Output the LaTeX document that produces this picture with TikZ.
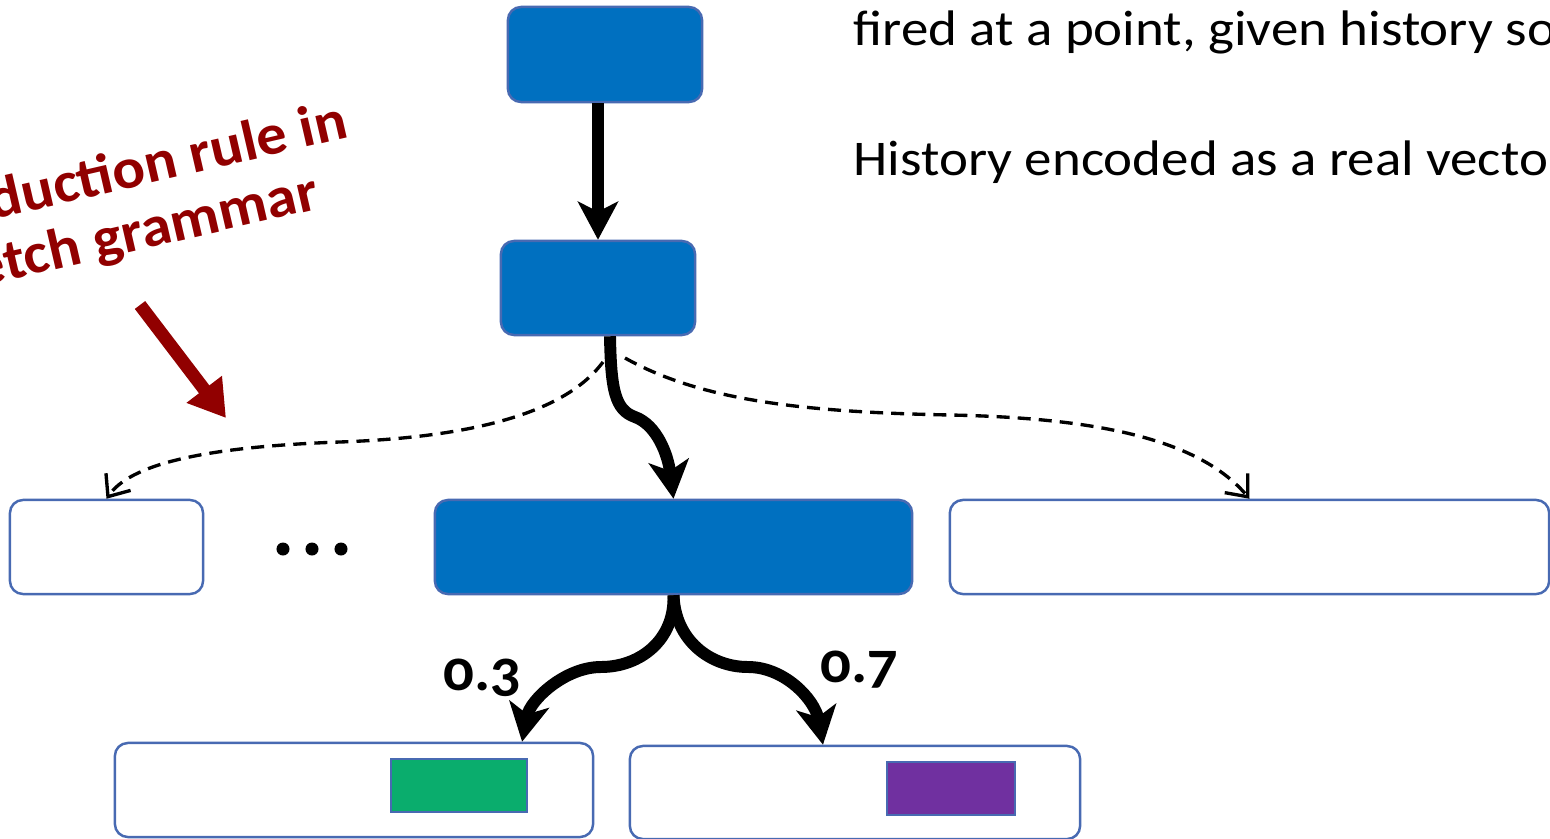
\documentclass[tikz,border=0pt]{standalone}
\usepackage{fontspec}
\setmainfont{Carlito}
\newfontfamily\probfont[Numbers=OldStyle,FakeStretch=1.05]{Carlito}
\newfontfamily\bodyfont[FakeStretch=1.1]{Carlito}
\newfontfamily\notefont[FakeStretch=1.06]{Carlito}
\usetikzlibrary{arrows.meta}
\definecolor{boxblue}{RGB}{0,112,192}
\definecolor{edgeblue}{RGB}{72,106,178}
\definecolor{okgreen}{RGB}{10,173,109}
\definecolor{okpurple}{RGB}{112,48,160}
\definecolor{darkred}{RGB}{145,0,0}
\begin{document}
\begin{tikzpicture}[x=0.01cm,y=-0.01cm,
 box/.style={draw=edgeblue,line width=0.7pt,rounded corners=0.13cm,inner sep=0,minimum height=0.94cm},
 filled/.style={box,fill=boxblue},
 empty/.style={box,fill=white},
 swatch/.style={draw=edgeblue,line width=0.5pt,inner sep=0,minimum height=0.53cm},
 bigarrow/.style={line width=3.4pt,-{Stealth[length=0.38cm,width=0.4cm,inset=0.1cm]}},
 choice/.style={dash pattern=on 3.7pt off 2.3pt,line width=0.95pt,-{Straight Barb[length=0.18cm,width=0.3cm]}},
 prob/.style={font=\fontsize{16.5pt}{19pt}\probfont\bfseries,inner sep=0,anchor=base west},
 body/.style={font=\fontsize{14.2pt}{17pt}\bodyfont,inner sep=0,anchor=base west},
 note/.style={font=\fontsize{16.3pt}{19pt}\notefont\bfseries,text=darkred,inner sep=0,rotate=13,anchor=base east}]
\useasboundingbox (0,0) rectangle (1550,839);
\clip (0,0) rectangle (1550,839);
% boxes
\node[filled,minimum width=1.94cm,minimum height=0.95cm] (A) at (605,54.5) {};
\node[filled,minimum width=1.94cm] (B) at (598,288) {};
\node[empty,minimum width=1.93cm] (C) at (106.5,547) {};
\node[filled,minimum width=4.77cm] (D) at (673.5,547) {};
\node[empty,minimum width=5.99cm] (E) at (1249.5,547) {};
\node[empty,minimum width=4.78cm] (F) at (354,790) {};
\node[empty,minimum width=4.50cm,minimum height=0.93cm] (G) at (855,792.5) {};
\node[swatch,fill=okgreen,minimum width=1.36cm] (Fg) at (459,785.5) {};
\node[swatch,fill=okpurple,minimum width=1.28cm] (Gp) at (951,788.5) {};
% dots
\fill (283,549) circle[radius=0.065cm] (312,549) circle[radius=0.065cm] (341,549) circle[radius=0.065cm];
% thick arrows
\draw[bigarrow] (A.south -| B.north) -- (B.north);
\draw[bigarrow] ([xshift=0.12cm]B.south) .. controls (611,390) and (615,410) .. (635,417) .. controls (657,425) and (668,455) .. (D.north);
\draw[bigarrow] (D.south) .. controls (675,640) and (640,667) .. (601,667) .. controls (565,667) and (530,700) .. ([xshift=1.68cm]F.north);
\draw[bigarrow] (D.south) .. controls (675,640) and (710,667) .. (748,667) .. controls (785,667) and (815,700) .. ([xshift=-0.32cm]G.north);
% dashed alternatives
\coordinate (dl) at (603,362);
\coordinate (dr) at (625,358);
\draw[choice] (dl) .. controls (560,420) and (450,438) .. (340,442) .. controls (200,447) and (130,465) .. (C.north);
\draw[choice] (dr) .. controls (700,400) and (800,412) .. (950,415) .. controls (1100,418) and (1200,440) .. (E.north);
% labels
\node[prob] (p3) at (443,690) {0.3};
\node[prob] (p7) at (820,682) {0.7};
\node[body] (t1) at (853,45) {fired at a point, given history so far};
\node[body] (t2) at (853,175) {History encoded as a real vector};
% red annotation
\node[note] (n1) at (351,137) {Production rule in};
\node[note] (n2) at (322,208) {sketch grammar};
\coordinate (r1) at (140,305);
\coordinate (r2) at (226,418);
\draw[darkred,line width=3.7pt,-{Triangle[length=0.36cm,width=0.42cm]}] (r1) -- (r2);
\end{tikzpicture}
\end{document}
